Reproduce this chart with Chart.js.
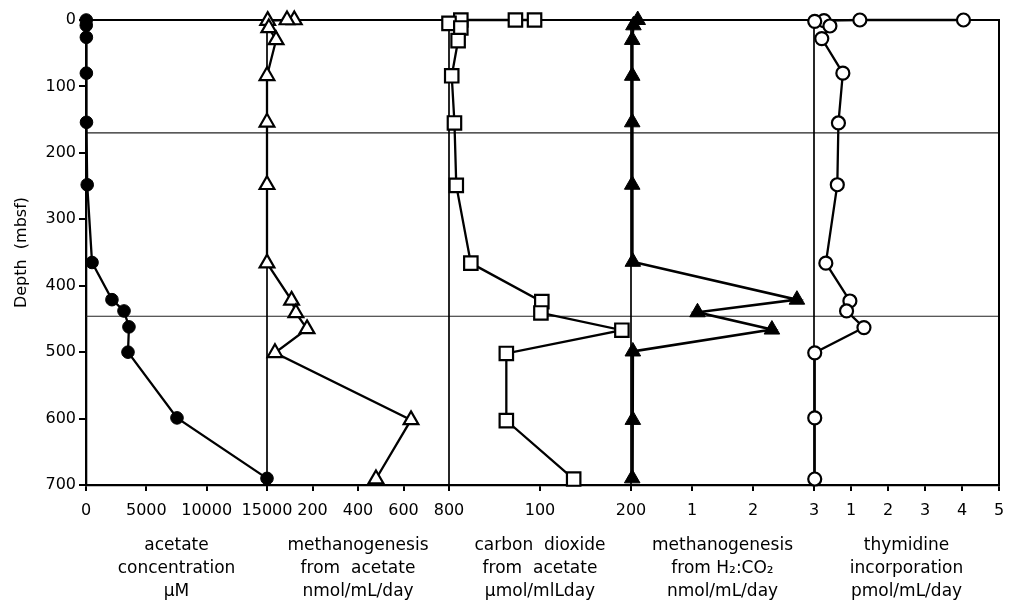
<!DOCTYPE html>
<html>
<head>
<meta charset="utf-8">
<script src="https://cdn.jsdelivr.net/npm/chart.js@4.4.0/dist/chart.umd.min.js"></script>
<style>
  html, body { margin: 0; padding: 0; background: #fff; }
  #wrap { width: 1013px; height: 604px; position: relative; }
</style>
</head>
<body>
<div id="wrap"><canvas id="profiles"></canvas></div>
<script>
const FONT = "'DejaVu Sans', 'Liberation Sans', sans-serif";

// Acetate concentration (µM) versus depth (mbsf)
const acetateDepth = [0, 8, 26, 80, 154, 248, 365, 421, 438, 462, 500, 599, 690];
const acetateConc  = [20, 20, 30, 30, 40, 100, 500, 2150, 3150, 3560, 3480, 7540, 15000];

// Methanogenesis from acetate (nmol/mL/day)
const methAcDepth = [0, 0, 1, 12, 30, 84, 154, 248, 366, 422, 441, 465, 501, 602, 691];
const methAcRate  = [120, 88, 3, 8, 40, 0, 0, 0, 0, 108, 127, 176, 35, 633, 479];

// Carbon dioxide from acetate (µmol/mL/day)
const co2Depth = [0, 0, 0, 5, 12, 31, 84, 155, 249, 366, 424, 441, 467, 502, 603, 691];
const co2Rate  = [94, 73, 13, 0, 13, 10, 3, 6, 8, 24, 102, 101, 190, 63, 63, 137];

// Methanogenesis from H2:CO2 (nmol/mL/day)
const methH2Depth = [0, 8, 30, 84, 154, 248, 364, 421, 440, 466, 499, 602, 690];
const methH2Rate  = [0.11, 0.04, 0.02, 0.02, 0.02, 0.02, 0.03, 2.72, 1.09, 2.31, 0.03, 0.03, 0.02];

// Thymidine incorporation (pmol/mL/day)
const thyDepth = [0, 0, 1, 2, 9, 28, 80, 155, 248, 366, 423, 438, 463, 501, 599, 691];
const thyRate  = [4.04, 1.24, 0.27, 0.02, 0.43, 0.21, 0.78, 0.66, 0.63, 0.32, 0.97, 0.88, 1.35, 0.02, 0.02, 0.02];

// Lithologic boundaries (mbsf)
const boundaryDepths = [170, 446];

// Per-panel axis settings
const panelIds    = ['x1', 'x2', 'x3', 'x4', 'x5'];
const panelMax    = [15000, 800, 200, 3, 5];
const panelStep   = [5000, 200, 100, 1, 1];
const panelWeight = [181, 182, 182, 183, 185];
const panelTitles = [
  ['acetate', 'concentration', 'µM'],
  ['methanogenesis', 'from  acetate', 'nmol/mL/day'],
  ['carbon  dioxide', 'from  acetate', 'µmol/mlLday'],
  ['methanogenesis', 'from H₂:CO₂', 'nmol/mL/day'],
  ['thymidine', 'incorporation', 'pmol/mL/day']
];

const depthMax = 700;
const depthStep = 100;

function profile(depths, values) {
  return depths.map((d, i) => ({ x: values[i], y: d }));
}

function series(label, axis, depths, values, style) {
  return Object.assign({
    label,
    xAxisID: axis,
    yAxisID: 'y',
    data: profile(depths, values),
    showLine: true,
    borderColor: '#000',
    borderWidth: 2.3,
    pointBorderColor: '#000',
    clip: false
  }, style);
}

const scales = {
  y: {
    type: 'linear',
    position: 'left',
    reverse: true,
    min: 0,
    max: depthMax,
    border: { display: true, color: '#000', width: 2.3 },
    grid: { drawOnChartArea: false, drawTicks: true, tickLength: 7, color: '#000', lineWidth: 2 },
    ticks: { stepSize: depthStep, padding: 3, color: '#000', font: { family: FONT, size: 16 } },
    title: {
      display: true,
      text: 'Depth  (mbsf)',
      color: '#000',
      font: { family: FONT, size: 16 },
      padding: { top: 12, bottom: 0 }
    },
    afterFit(s) { s.width = 86; s.paddingTop = 0; s.paddingBottom = 0; }
  }
};

panelIds.forEach((id, i) => {
  scales[id] = {
    type: 'linear',
    position: 'bottom',
    stack: 'panels',
    stackWeight: panelWeight[i],
    min: 0,
    max: panelMax[i],
    border: { display: true, color: '#000', width: 2.3 },
    grid: { drawOnChartArea: false, drawTicks: true, tickLength: 6, color: '#000', lineWidth: 2 },
    ticks: {
      stepSize: panelStep[i],
      autoSkip: false,
      maxRotation: 0,
      minRotation: 0,
      padding: 10,
      color: '#000',
      font: { family: FONT, size: 16 },
      callback: (v) => (i > 0 && v === 0) ? '' : String(v)
    },
    title: {
      display: true,
      text: panelTitles[i],
      color: '#000',
      font: { family: FONT, size: 17, lineHeight: 1.36 },
      padding: { top: 4, bottom: 0.5 }
    },
    afterFit(s) { s.height = 119; s.paddingLeft = 0; s.paddingRight = 0; }
  };
});

// Frame, panel dividers and boundary lines drawn beneath the profiles
const framePlugin = {
  id: 'frame',
  beforeDatasetsDraw(chart) {
    const { ctx, chartArea: a } = chart;
    const sc = chart.scales;
    ctx.save();
    ctx.strokeStyle = '#222';
    ctx.lineWidth = 1.2;
    boundaryDepths.forEach(d => {
      const y = sc.y.getPixelForValue(d);
      ctx.beginPath();
      ctx.moveTo(a.left, y);
      ctx.lineTo(a.right, y);
      ctx.stroke();
    });
    ctx.strokeStyle = '#000';
    ctx.lineWidth = 2;
    ctx.beginPath();
    ctx.moveTo(a.left, a.top);
    ctx.lineTo(a.right, a.top);
    ctx.lineTo(a.right, a.bottom);
    ctx.stroke();
    ctx.lineWidth = 1.7;
    panelIds.slice(1).forEach(id => {
      const x = sc[id].getPixelForValue(0);
      ctx.beginPath();
      ctx.moveTo(x, a.top);
      ctx.lineTo(x, a.bottom);
      ctx.stroke();
    });
    ctx.restore();
  }
};

new Chart(document.getElementById('profiles'), {
  type: 'scatter',
  data: {
    datasets: [
      series('acetate concentration', 'x1', acetateDepth, acetateConc, {
        pointStyle: 'circle', pointRadius: 6.3, pointBackgroundColor: '#000', pointBorderWidth: 1
      }),
      series('methanogenesis from acetate', 'x2', methAcDepth, methAcRate, {
        pointStyle: 'triangle', pointRadius: 8.5, pointBackgroundColor: '#fff', pointBorderWidth: 2.2
      }),
      series('carbon dioxide from acetate', 'x3', co2Depth, co2Rate, {
        pointStyle: 'rect', pointRadius: 9.5, pointBackgroundColor: '#fff', pointBorderWidth: 2.2
      }),
      series('methanogenesis from H2:CO2', 'x4', methH2Depth, methH2Rate, {
        pointStyle: 'triangle', pointRadius: 9, pointBackgroundColor: '#000', pointBorderWidth: 1,
        borderWidth: 2.6
      }),
      series('thymidine incorporation', 'x5', thyDepth, thyRate, {
        pointStyle: 'circle', pointRadius: 6.5, pointBackgroundColor: '#fff', pointBorderWidth: 2.2
      })
    ]
  },
  options: {
    responsive: true,
    maintainAspectRatio: false,
    animation: false,
    layout: { padding: { top: 20, right: 14, bottom: 0, left: 0 } },
    plugins: { legend: { display: false }, tooltip: { enabled: false } },
    scales
  },
  plugins: [framePlugin]
});
</script>
</body>
</html>
